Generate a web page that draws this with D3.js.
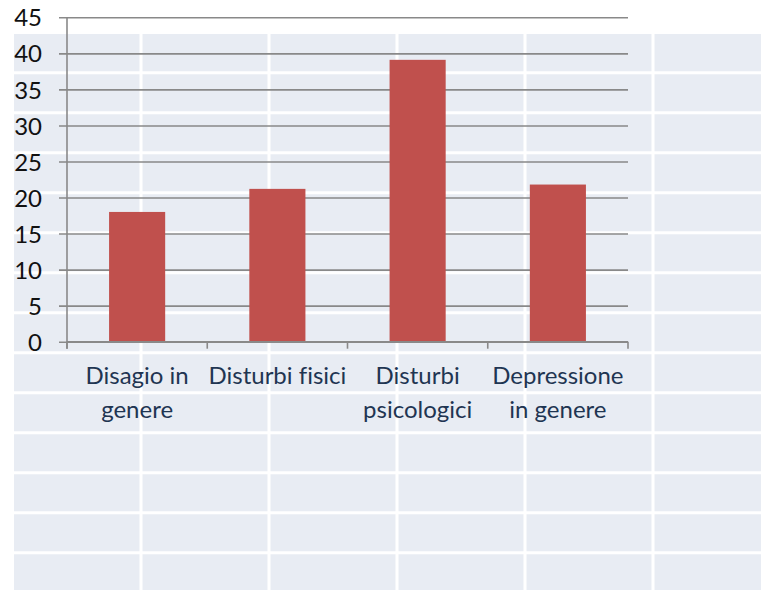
<!DOCTYPE html>
<html>
<head>
<meta charset="utf-8">
<script src="https://cdn.jsdelivr.net/npm/d3@7"></script>
<style>
  html, body { margin: 0; padding: 0; background: #fff; }
  svg { display: block; }
  text { font-variant-ligatures: none; font-feature-settings: "liga" 0; }
</style>
</head>
<body>
<svg id="chart" width="761" height="590"></svg>
<script>
// ---- data ----
const categories = [["Disagio in", "genere"], ["Disturbi fisici"], ["Disturbi", "psicologici"], ["Depressione", "in genere"]];
const values = [18.0, 21.2, 39.1, 21.8];
const yTicks = [0, 5, 10, 15, 20, 25, 30, 35, 40, 45];

(function() {
const W = 761, H = 590;
const svg = d3.select("#chart");

// ---- spreadsheet-like background ----
const bg = svg.append("g");
bg.append("rect").attr("x", 14).attr("y", 34).attr("width", W - 14).attr("height", H - 34).attr("fill", "#e8ecf3");
const colLines = d3.range(141, W, 128);
const rowLines = d3.range(72.7, H, 40);
bg.selectAll("line.c").data(colLines).join("line").attr("class", "c")
  .attr("x1", d => d).attr("x2", d => d).attr("y1", 34).attr("y2", H)
  .attr("stroke", "#fff").attr("stroke-width", 3);
bg.selectAll("line.r").data(rowLines).join("line").attr("class", "r")
  .attr("x1", 14).attr("x2", W).attr("y1", d => d).attr("y2", d => d)
  .attr("stroke", "#fff").attr("stroke-width", 3);

// ---- scales ----
const pLeft = 67, pRight = 628, pTop = 17.3, pBottom = 341.7;
const x = d3.scaleBand().domain(d3.range(categories.length)).range([pLeft, pRight]).paddingInner(0.6).paddingOuter(0.3);
const y = d3.scaleLinear().domain([0, 45]).range([pBottom, pTop]);

const font = "Lato, 'Open Sans', sans-serif";
const gridColor = "#898989";
const fs = 24;

// gridlines + y axis
const yAxis = d3.axisLeft(y).tickValues(yTicks).tickSize(8).tickPadding(17).tickFormat(d3.format("d"));
const gy = svg.append("g").attr("transform", `translate(${pLeft},0)`).call(yAxis);
gy.select(".domain").remove();
gy.selectAll(".tick line").attr("stroke", gridColor).attr("stroke-width", 1.6).attr("x1", -8).attr("x2", pRight - pLeft);
gy.selectAll(".tick text").attr("font-family", font).attr("font-size", fs).attr("fill", "#111").attr("dy", "0.36em");

// bars
svg.append("g").selectAll("rect").data(values).join("rect")
  .attr("x", (d, i) => x(i)).attr("width", x.bandwidth())
  .attr("y", d => y(d)).attr("height", d => y(0) - y(d))
  .attr("fill", "#c0504d");

// left axis line
svg.append("line").attr("x1", pLeft).attr("x2", pLeft).attr("y1", pTop).attr("y2", pBottom + 7)
  .attr("stroke", gridColor).attr("stroke-width", 1.6);

// x axis (category boundary ticks)
const bounds = d3.range(categories.length + 1).map(i => pLeft + i * (pRight - pLeft) / categories.length);
svg.append("line").attr("x1", pLeft).attr("x2", pRight).attr("y1", pBottom).attr("y2", pBottom)
  .attr("stroke", gridColor).attr("stroke-width", 1.6);
svg.append("g").selectAll("line").data(bounds).join("line")
  .attr("x1", d => d).attr("x2", d => d).attr("y1", pBottom).attr("y2", pBottom + 7)
  .attr("stroke", gridColor).attr("stroke-width", 1.6);

// category labels
const lab = svg.append("g").selectAll("text").data(categories).join("text")
  .attr("font-family", font).attr("font-size", fs).attr("fill", "#1f3552")
  .attr("text-anchor", "middle");
lab.each(function(lines, i) {
  const cx = x(i) + x.bandwidth() / 2;
  d3.select(this).selectAll("tspan").data(lines).join("tspan")
    .attr("x", cx).attr("y", (d, j) => 383.5 + j * 34.5).text(d => d);
});
})();
</script>
</body>
</html>
